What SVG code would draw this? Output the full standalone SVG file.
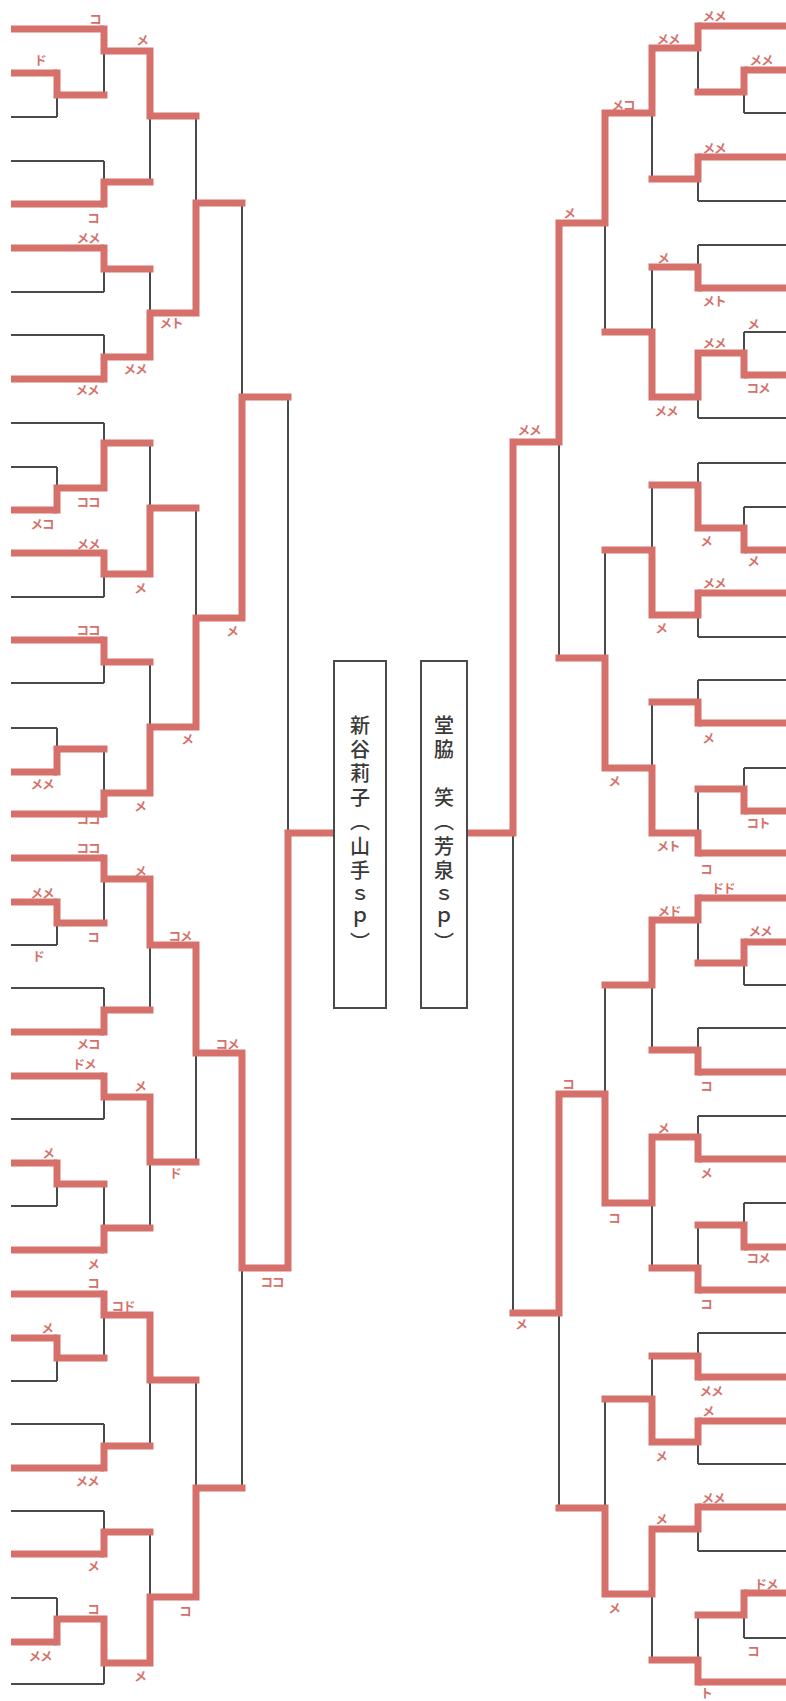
<svg xmlns="http://www.w3.org/2000/svg" width="786" height="1701" viewBox="0 0 786 1701">
<style>
.g{stroke:#4a4a4a;stroke-width:2;fill:none}
.r{stroke:#d5716a;stroke-width:7;fill:none;stroke-linecap:square;stroke-linejoin:miter}
.re{stroke:#d5716a;stroke-width:7;fill:none;stroke-linecap:butt}
.box{fill:#fff;stroke:#4a4a4a;stroke-width:2}
.nm{font-family:"Noto Sans CJK JP","Noto Sans CJK SC",sans-serif;font-size:20px;font-weight:500;fill:#3a3a3a;writing-mode:vertical-rl;letter-spacing:4.2px}
.lb{font-family:"Noto Sans CJK JP","Noto Sans CJK SC",sans-serif;font-size:12.5px;font-weight:700;fill:#d5716a;text-anchor:middle;dominant-baseline:central;letter-spacing:-1px}
</style>
<rect width="786" height="1701" fill="#fff"/>
<g id="connectors">
<path class="g" d="M57 73V117M57 467V510M57 728V772M57 902V945M57 1163V1206M57 1338V1381M57 1598V1642
M104 29V95M104 161V204M104 248V292M104 335V379M104 423V488M104 553V597M104 640V683M104 749V814M104 858V923M104 988V1032M104 1076V1119M104 1184V1250M104 1294V1358M104 1424V1468M104 1511V1554M104 1619V1684
M150 51V182M150 269V357M150 443V574M150 662V793M150 879V1010M150 1097V1228M150 1315V1446M150 1532V1663
M196 116V313M196 508V727M196 945V1162M196 1380V1597
M242 203V618M242 1053V1488
M288 397V1268"/>
<path class="g" d="M11 117H57M11 161H104M11 292H104M11 335H104M11 423H104M11 467H57M11 597H104M11 683H104M11 728H57M11 945H57M11 988H104M11 1119H104M11 1206H57M11 1381H57M11 1424H104M11 1511H104M11 1598H57M11 1684H104"/>
<path class="re" d="M11 29H104M11 73H57M11 204H104M11 248H104M11 379H104M11 510H57M11 553H104M11 640H104M11 772H57M11 814H104M11 858H104M11 902H57M11 1032H104M11 1076H104M11 1163H57M11 1250H104M11 1294H104M11 1338H57M11 1468H104M11 1554H104M11 1642H57"/>
<path class="r" d="M57 73V95H104M57 510V488H104M57 772V749H104M57 902V923H104M57 1163V1184H104M57 1338V1358H104M57 1642V1619H104
M104 29V51H150M104 204V182H150M104 248V269H150M104 379V357H150M104 488V443H150M104 553V574H150M104 640V662H150M104 814V793H150M104 858V879H150M104 1032V1010H150M104 1076V1097H150M104 1250V1228H150M104 1294V1315H150M104 1468V1446H150M104 1554V1532H150M104 1619V1663H150
M150 51V116H196M150 357V313H196M150 574V508H196M150 793V727H196M150 879V945H196M150 1097V1162H196M150 1315V1380H196M150 1663V1597H196
M196 313V203H242M196 727V618H242M196 945V1053H242M196 1597V1488H242
M242 618V397H288M242 1053V1268H288
M288 1268V833H330.5"/>
<path class="g" d="M744 70V113M744 332V375M744 507V550M744 768V811M744 942V985M744 1203V1247M744 1593V1638
M698 26V92M698 157V201M698 245V288M698 353V418M698 463V528M698 593V637M698 680V723M698 789V853M698 898V963M698 1028V1072M698 1116V1159M698 1225V1290M698 1333V1377M698 1421V1464M698 1507V1551M698 1615V1682
M652 48V179M652 267V397M652 485V615M652 702V833M652 920V1050M652 1137V1268M652 1356V1442M652 1529V1660
M605 113V332M605 550V768M605 985V1203M605 1399V1594
M559 223V658M559 1094V1508
M513 442V1313"/>
<path class="g" d="M786 113H744M786 201H698M786 245H698M786 332H744M786 418H698M786 463H698M786 507H744M786 637H698M786 680H698M786 768H744M786 985H744M786 1028H698M786 1116H698M786 1203H744M786 1333H698M786 1464H698M786 1551H698M786 1638H744"/>
<path class="re" d="M786 26H698M786 70H744M786 157H698M786 288H698M786 375H744M786 550H744M786 593H698M786 723H698M786 811H744M786 853H698M786 898H698M786 942H744M786 1072H698M786 1159H698M786 1247H744M786 1290H698M786 1377H698M786 1421H698M786 1507H698M786 1593H744M786 1682H698"/>
<path class="r" d="M744 70V92H698M744 375V353H698M744 550V528H698M744 811V789H698M744 942V963H698M744 1247V1225H698M744 1593V1615H698
M698 26V48H652M698 157V179H652M698 288V267H652M698 353V397H652M698 528V485H652M698 593V615H652M698 723V702H652M698 853V833H652M698 898V920H652M698 1072V1050H652M698 1159V1137H652M698 1290V1268H652M698 1377V1356H652M698 1421V1442H652M698 1507V1529H652M698 1682V1660H652
M652 48V113H605M652 397V332H605M652 615V550H605M652 833V768H605M652 920V985H605M652 1137V1203H605M652 1442V1399H605M652 1529V1594H605
M605 113V223H559M605 768V658H559M605 1203V1094H559M605 1594V1508H559
M559 223V442H513M559 1094V1313H513
M513 442V833H470.5"/>
</g>
<g id="node-left">
<rect class="box" x="334" y="661" width="52" height="347"/>
<text class="nm" x="360" y="715">新谷莉子（山手ｓｐ）</text>
</g>
<g id="node-right">
<rect class="box" x="421" y="661" width="46" height="347"/>
<text class="nm" x="444" y="715">堂脇　笑（芳泉ｓｐ）</text>
</g>
<g id="labels" class="lb">
<text x="95" y="18">コ</text>
<text x="40" y="59">ド</text>
<text x="142" y="39">メ</text>
<text x="93" y="217">コ</text>
<text x="88" y="237">メメ</text>
<text x="171" y="322">メト</text>
<text x="135" y="368">メメ</text>
<text x="87" y="389">メメ</text>
<text x="88" y="501">ココ</text>
<text x="42" y="523">メコ</text>
<text x="88" y="543">メメ</text>
<text x="140" y="587">メ</text>
<text x="88" y="629">ココ</text>
<text x="232" y="630">メ</text>
<text x="187" y="738">メ</text>
<text x="42" y="783">メメ</text>
<text x="140" y="805">メ</text>
<text x="88" y="818">ココ</text>
<text x="88" y="847">ココ</text>
<text x="42" y="892">メメ</text>
<text x="140" y="870">メ</text>
<text x="38" y="955">ド</text>
<text x="93" y="936">コ</text>
<text x="180" y="935">コメ</text>
<text x="88" y="1043">メコ</text>
<text x="84" y="1063">ドメ</text>
<text x="140" y="1085">メ</text>
<text x="227" y="1043">コメ</text>
<text x="175" y="1172">ド</text>
<text x="48" y="1152">メ</text>
<text x="93" y="1263">メ</text>
<text x="272" y="1281">ココ</text>
<text x="93" y="1282">コ</text>
<text x="123" y="1305">コド</text>
<text x="47" y="1327">メ</text>
<text x="87" y="1480">メメ</text>
<text x="93" y="1565">メ</text>
<text x="93" y="1608">コ</text>
<text x="185" y="1610">コ</text>
<text x="40" y="1655">メメ</text>
<text x="140" y="1675">メ</text>
<text x="714" y="15">メメ</text>
<text x="761" y="59">メメ</text>
<text x="668" y="38">メメ</text>
<text x="623" y="104">メコ</text>
<text x="714" y="147">メメ</text>
<text x="663" y="257">メ</text>
<text x="714" y="300">メト</text>
<text x="753" y="323">メ</text>
<text x="758" y="387">コメ</text>
<text x="714" y="342">メメ</text>
<text x="666" y="410">メメ</text>
<text x="569" y="212">メ</text>
<text x="529" y="429">メメ</text>
<text x="706" y="540">メ</text>
<text x="753" y="560">メ</text>
<text x="714" y="582">メメ</text>
<text x="661" y="627">メ</text>
<text x="708" y="737">メ</text>
<text x="614" y="780">メ</text>
<text x="758" y="822">コト</text>
<text x="668" y="845">メト</text>
<text x="706" y="868">コ</text>
<text x="723" y="887">ドド</text>
<text x="669" y="910">メド</text>
<text x="760" y="930">メメ</text>
<text x="706" y="1085">コ</text>
<text x="568" y="1083">コ</text>
<text x="663" y="1127">メ</text>
<text x="706" y="1172">メ</text>
<text x="614" y="1217">コ</text>
<text x="758" y="1257">コメ</text>
<text x="706" y="1303">コ</text>
<text x="521" y="1323">メ</text>
<text x="711" y="1390">メメ</text>
<text x="708" y="1410">メ</text>
<text x="661" y="1455">メ</text>
<text x="713" y="1497">メメ</text>
<text x="661" y="1518">メ</text>
<text x="614" y="1607">メ</text>
<text x="766" y="1583">ドメ</text>
<text x="753" y="1650">コ</text>
<text x="706" y="1692">ト</text>
</g>
</svg>
